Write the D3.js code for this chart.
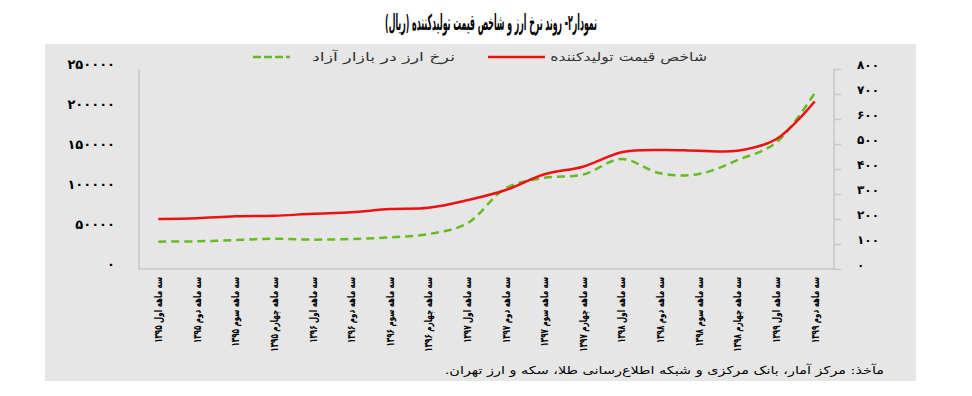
<!DOCTYPE html>
<html>
<head>
    <meta charset="utf-8">
    <title>exchange rate and PPI</title>
    <script src="https://cdn.jsdelivr.net/npm/d3@7/dist/d3.min.js" type="text/javascript"></script>
</head>
<body style="margin:0;background:#fff;">
<style type="text/css">
    text {font-family: "DejaVu Sans", sans-serif;}
    .frame {stroke: #c8c8c8; stroke-width: 1.5; fill: none;}
</style>
<div id="container"></div>
<script type="text/javascript">
    const w = 972;
    const h = 396;

    // data
    const categories = [
        'سه ماهه اول ۱۳۹۵', 'سه ماهه دوم ۱۳۹۵', 'سه ماهه سوم ۱۳۹۵', 'سه ماهه چهارم ۱۳۹۵',
        'سه ماهه اول ۱۳۹۶', 'سه ماهه دوم ۱۳۹۶', 'سه ماهه سوم ۱۳۹۶', 'سه ماهه چهارم ۱۳۹۶',
        'سه ماهه اول ۱۳۹۷', 'سه ماهه دوم ۱۳۹۷', 'سه ماهه سوم ۱۳۹۷', 'سه ماهه چهارم ۱۳۹۷',
        'سه ماهه اول ۱۳۹۸', 'سه ماهه دوم ۱۳۹۸', 'سه ماهه سوم ۱۳۹۸', 'سه ماهه چهارم ۱۳۹۸',
        'سه ماهه اول ۱۳۹۹', 'سه ماهه دوم ۱۳۹۹'
    ];
    // free market exchange rate (left axis)
    const rate = [34200, 34600, 36200, 37900, 36700, 37500, 39600, 43700, 57000, 101000,
        114000, 118000, 137500, 119600, 118700, 136000, 158000, 220000];
    // producer price index (right axis)
    const ppi = [200, 203, 211, 213, 221, 227, 240, 245, 275, 316,
        379, 409, 467, 476, 473, 473, 519, 670];
    const leftTicks = [0, 50000, 100000, 150000, 200000, 250000];
    const rightTicks = [0, 100, 200, 300, 400, 500, 600, 700, 800];

    const title = 'نمودار۲- روند نرخ ارز و شاخص قیمت تولیدکننده (ریال)';
    const legendRate = 'نرخ ارز در بازار آزاد';
    const legendPpi = 'شاخص قیمت تولیدکننده';
    const source = 'مآخذ: مرکز آمار، بانک مرکزی و شبکه اطلاع‌رسانی طلا، سکه و ارز تهران.';

    const fa = s => String(s).replace(/\d/g, d => '۰۱۲۳۴۵۶۷۸۹'[d]);

    const rateColor = '#66bb22';
    const ppiColor = '#ee1111';

    const svg = d3.select('div#container')
        .append('svg')
        .attr('width', w)
        .attr('height', h);

    // squeeze a text horizontally so it fills the given width
    function fitText(g, x, y, str, width, size, opts) {
        const t = g.append('text')
            .attr('direction', 'rtl')
            .attr('text-anchor', 'start')
            .style('font-size', size + 'px')
            .text(str);
        if (opts && opts.bold) t.style('font-weight', 'bold');
        if (opts && opts.fill) t.style('fill', opts.fill);
        const k = width / t.node().getComputedTextLength();
        t.attr('transform', `translate(${x}, ${y}) scale(${k}, 1)`);
        return t;
    }

    // backgrounds
    svg.append('rect')
        .attr('x', 45).attr('y', 44)
        .attr('width', 871).attr('height', 337)
        .style('fill', '#e6e6e6');

    // title (right edge anchored)
    fitText(svg, 597, 30, title, 212, 22, {bold: true});

    const plot = {left: 139, right: 834, top: 69, bottom: 269};

    const x = d3.scalePoint()
        .domain(categories)
        .range([plot.left, plot.right])
        .padding(0.5);

    const yL = d3.scaleLinear().domain([0, 250000]).range([plot.bottom, plot.top]);
    const yR = d3.scaleLinear().domain([0, 800]).range([plot.bottom, plot.top]);

    // frame
    svg.append('path')
        .attr('class', 'frame')
        .attr('d', `M${plot.left} ${plot.top}V${plot.bottom}H${plot.right}V${plot.top}`);

    // left axis
    const gl = svg.append('g')
        .attr('transform', `translate(115, 0)`)
        .call(d3.axisLeft(yL).tickValues(leftTicks).tickSize(0).tickPadding(0).tickFormat(fa));
    gl.select('.domain').remove();
    gl.selectAll('text')
        .attr('text-anchor', 'end')
        .attr('x', 0)
        .attr('dy', '-0.05em')
        .style('font-size', '13px')
        .style('font-weight', 'bold')
        .style('letter-spacing', '3px')
        .style('font-family', '"DejaVu Sans", sans-serif')
        .style('fill', '#000');

    // right axis
    const gr = svg.append('g')
        .attr('transform', `translate(${plot.right}, 0)`)
        .call(d3.axisRight(yR).tickValues(rightTicks).tickSize(7).tickFormat(fa));
    gr.select('.domain').remove();
    gr.selectAll('line').style('stroke', '#c8c8c8').style('stroke-width', 1.5);
    gr.selectAll('text')
        .attr('x', 23)
        .attr('dy', '-0.05em')
        .attr('text-anchor', 'start')
        .style('font-size', '12px')
        .style('font-weight', 'bold')
        .style('letter-spacing', '2.6px')
        .style('font-family', '"DejaVu Sans", sans-serif')
        .style('fill', '#000');

    // category labels
    const labels = svg.append('g').selectAll('text')
        .data(categories)
        .join('text')
        .attr('direction', 'rtl')
        .attr('text-anchor', 'start')
        .attr('dy', '0.35em')
        .style('font-size', '11px')
        .style('font-weight', 'bold')
        .text(d => d);
    const k0 = 66 / labels.node().getComputedTextLength();
    labels.attr('transform', d => `translate(${x(d)}, 277) rotate(-90) scale(${k0}, 1)`);

    // lines
    const rateLine = d3.line()
        .x((d, i) => x(categories[i]))
        .y(d => yL(d))
        .curve(d3.curveCatmullRom.alpha(0.5));
    const ppiLine = d3.line()
        .x((d, i) => x(categories[i]))
        .y(d => yR(d))
        .curve(d3.curveCatmullRom.alpha(0.5));

    svg.append('path')
        .datum(rate)
        .attr('d', rateLine)
        .style('fill', 'none')
        .style('stroke', rateColor)
        .style('stroke-width', 2.5)
        .style('stroke-dasharray', '8,5');

    svg.append('path')
        .datum(ppi)
        .attr('d', ppiLine)
        .style('fill', 'none')
        .style('stroke', ppiColor)
        .style('stroke-width', 2.5);

    // legend
    const lg = svg.append('g');
    lg.append('line')
        .attr('x1', 488).attr('x2', 545).attr('y1', 57).attr('y2', 57)
        .style('stroke', ppiColor).style('stroke-width', 2.5);
    fitText(lg, 707, 61, legendPpi, 157, 12, {fill: '#333'});
    lg.append('line')
        .attr('x1', 253).attr('x2', 290).attr('y1', 57).attr('y2', 57)
        .style('stroke', rateColor).style('stroke-width', 2.5)
        .style('stroke-dasharray', '8,3');
    fitText(lg, 455, 61, legendRate, 143, 12, {fill: '#333'});

    // source
    fitText(svg, 884, 374, source, 440, 11, {fill: '#000'});
</script>
</body>
</html>
